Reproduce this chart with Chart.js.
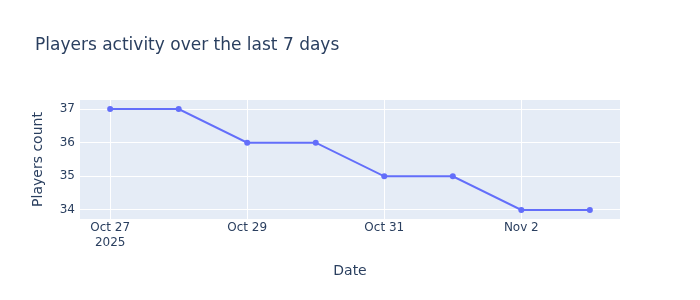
<!DOCTYPE html>
<html>
<head>
<meta charset="utf-8">
<script src="https://cdn.jsdelivr.net/npm/chart.js@4"></script>
<style>
  html, body { margin: 0; padding: 0; background: #fff; }
  #wrap { width: 700px; height: 300px; }
</style>
</head>
<body>
<div id="wrap"><canvas id="chartLine" width="700" height="300"></canvas></div>
<script>
const dates = ['2025-10-27', '2025-10-28', '2025-10-29', '2025-10-30', '2025-10-31', '2025-11-01', '2025-11-02', '2025-11-03'];
const players = [37, 37, 36, 36, 35, 35, 34, 34];
const xTickIndex = [0, 2, 4, 6];
const xTickLabels = [['Oct 27', '2025'], 'Oct 29', 'Oct 31', 'Nov 2'];
const yTicks = [34, 35, 36, 37];

const FONT = '"DejaVu Sans", verdana, arial, sans-serif';
const INK = '#2a3f5f';

const titlePlugin = {
  id: 'plotTitle',
  beforeDraw(chart) {
    const { ctx, chartArea: a } = chart;
    ctx.save();
    ctx.fillStyle = '#e5ecf6';
    ctx.fillRect(a.left, a.top, a.right - a.left, a.bottom - a.top);
    ctx.restore();
  },
  afterDraw(chart) {
    const ctx = chart.ctx;
    ctx.save();
    ctx.font = '17px ' + FONT;
    ctx.fillStyle = INK;
    ctx.textBaseline = 'alphabetic';
    ctx.fillText('Players activity over the last 7 days', 35, 50);
    ctx.restore();
  }
};

new Chart(document.getElementById('chartLine'), {
  type: 'line',
  data: {
    datasets: [{
      label: 'Players count',
      data: players.map((v, i) => ({ x: i, y: v })),
      borderColor: '#636efa',
      backgroundColor: '#636efa',
      borderWidth: 2,
      pointRadius: 3,
      pointHoverRadius: 3,
      pointBorderWidth: 0,
      tension: 0
    }]
  },
  options: {
    responsive: false,
    animation: false,
    layout: { padding: { top: 100, right: 80, left: 0, bottom: 0 } },
    plugins: { legend: { display: false }, tooltip: { enabled: false } },
    scales: {
      x: {
        type: 'linear',
        min: -0.44,
        max: dates.length - 1 + 0.44,
        afterBuildTicks: s => { s.ticks = xTickIndex.map(v => ({ value: v })); },
        afterFit: s => { s.height = 81; },
        grid: { color: '#ffffff', lineWidth: 1, drawTicks: false },
        border: { display: false },
        ticks: {
          padding: 2,
          maxRotation: 0,
          autoSkip: false,
          color: INK,
          font: { family: FONT, size: 12 },
          callback: (v) => xTickLabels[xTickIndex.indexOf(v)]
        },
        title: {
          display: true,
          text: 'Date',
          color: INK,
          font: { family: FONT, size: 14 },
          padding: { top: 0, bottom: 20 }
        }
      },
      y: {
        min: 33.73,
        max: 37.27,
        afterBuildTicks: s => { s.ticks = yTicks.map(v => ({ value: v })); },
        afterFit: s => { s.width = 80; },
        grid: { color: '#ffffff', lineWidth: 1, drawTicks: false },
        border: { display: false },
        ticks: {
          padding: 5,
          color: INK,
          font: { family: FONT, size: 12 }
        },
        title: {
          display: true,
          text: 'Players count',
          color: INK,
          font: { family: FONT, size: 14 },
          padding: { top: 30, bottom: 0 }
        }
      }
    }
  },
  plugins: [titlePlugin]
});
</script>
</body>
</html>
